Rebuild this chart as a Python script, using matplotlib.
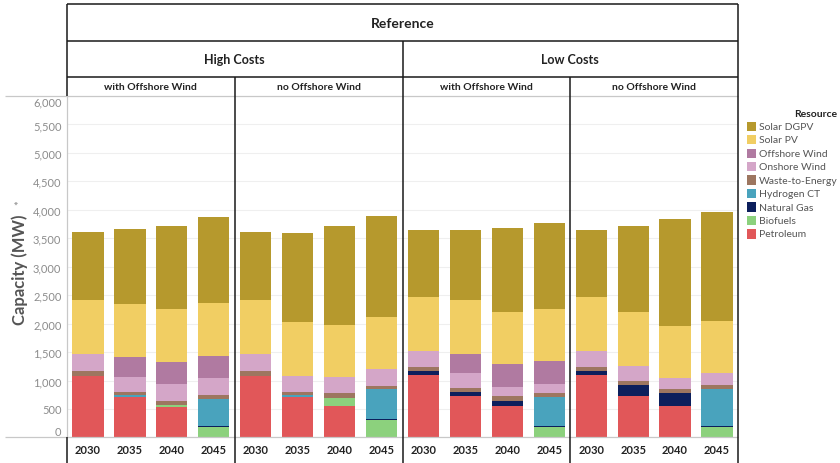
import matplotlib
matplotlib.use('Agg')
import matplotlib.pyplot as plt
from matplotlib.lines import Line2D
from matplotlib.patches import Rectangle

plt.rcParams['font.family'] = ['Lato', 'DejaVu Sans']

# ---------------- data ----------------
years = ['2030', '2035', '2040', '2045']
cost_groups = ['High Costs', 'Low Costs']
wind_cases = ['with Offshore Wind', 'no Offshore Wind']
title = 'Reference'

# order of panels: High/with, High/no, Low/with, Low/no ; 4 years each
petroleum     = [1084, 715, 539, 0,   1084, 715, 552, 0,   1091, 722, 552, 0,   1091, 722, 557, 0]
biofuels      = [0, 0, 35, 180,       0, 0, 140, 306,      0, 0, 0, 175,        0, 0, 0, 175]
natural_gas   = [0, 0, 0, 15,         0, 0, 0, 17,         75, 81, 93, 20,      75, 204, 218, 20]
hydrogen_ct   = [0, 25, 0, 480,       0, 25, 0, 522,       0, 0, 0, 515,        0, 0, 0, 660]
waste         = [82, 58, 71, 70,      82, 58, 83, 63,      71, 70, 77, 65,      71, 70, 70, 71]
onshore_wind  = [294, 258, 288, 293,  294, 281, 286, 288,  275, 258, 163, 158,  275, 258, 198, 205]
offshore_wind = [0, 362, 391, 392,    0, 0, 0, 0,          0, 329, 399, 404,    0, 0, 0, 0]
solar_pv      = [948, 935, 926, 926,  948, 948, 908, 919,  949, 948, 919, 913,  949, 949, 914, 908]
solar_dgpv    = [1205, 1308, 1463, 1516, 1205, 1558, 1744, 1779, 1177, 1240, 1480, 1521, 1177, 1510, 1874, 1915]

resources = ['Petroleum', 'Biofuels', 'Natural Gas', 'Hydrogen CT', 'Waste-to-Energy',
             'Onshore Wind', 'Offshore Wind', 'Solar PV', 'Solar DGPV']
series = [petroleum, biofuels, natural_gas, hydrogen_ct, waste,
          onshore_wind, offshore_wind, solar_pv, solar_dgpv]
colors = ['#E15759', '#8CD17D', '#0C1F5C', '#49A3BD', '#9D7660',
          '#D4A6C8', '#B07AA1', '#F1CE63', '#B6992D']

y_ticks = list(range(0, 6001, 500))

# ---------------- layout ----------------
W, H = 840, 464
fig = plt.figure(figsize=(W / 100, H / 100), dpi=100)

def fx(px):
    return px / W

def fy(py):
    return 1 - py / H

plot_top, plot_bot = 97.0, 438.4
x_left, x_right = 67.0, 738.0
pw = (x_right - x_left) / 4

BLACK = '#1a1a1a'
GRAY = '#c8c8c8'

def line(x0, y0, x1, y1, color=BLACK, lw=1.1):
    fig.add_artist(Line2D([fx(x0), fx(x1)], [fy(y0), fy(y1)],
                          transform=fig.transFigure, color=color, lw=lw,
                          solid_capstyle='butt'))

for p in range(4):
    ax = fig.add_axes([fx(x_left + p * pw), fy(plot_bot), fx(pw), (plot_bot - plot_top) / H])
    bottoms = [0] * 4
    for vals, col in zip(series, colors):
        v = vals[p * 4:(p + 1) * 4]
        ax.bar(range(4), v, width=0.745, bottom=bottoms, color=col, linewidth=0, zorder=2)
        bottoms = [b + x for b, x in zip(bottoms, v)]
    ax.set_xlim(-0.5, 3.5)
    ax.set_ylim(0, 6000)
    ax.set_yticks(y_ticks, labels=[f'{t:,}' for t in y_ticks])
    ax.yaxis.grid(True, color='#efefef', lw=0.8, zorder=0)
    ax.set_axisbelow(True)
    ax.set_xticks(range(4), labels=years)
    ax.tick_params(axis='x', length=0, pad=5, labelsize=8)
    for t in ax.get_xticklabels():
        t.set_fontweight('bold')
        t.set_color('#222222')
    if p == 0:
        ax.tick_params(axis='y', length=0, pad=4, labelsize=8, labelcolor='#8c8c8c')
        labs = ax.get_yticklabels()
        labs[0].set_va('bottom')
        labs[-1].set_va('top')
    else:
        ax.tick_params(axis='y', length=0, labelleft=False)
    for s in ax.spines.values():
        s.set_visible(False)

# ---------------- frame lines ----------------
line(5, plot_top, x_right, plot_top, GRAY, 0.9)
line(5, plot_bot, x_right, plot_bot, GRAY, 0.9)
line(x_left, plot_top, x_left, plot_bot, GRAY, 0.9)
line(x_left, 5, x_right, 5)
line(x_left, 42, x_right, 42)
line(x_left, 78, x_right, 78)
line(x_left, 5, x_left, plot_top)
line(x_left, plot_bot, x_left, H)
line(x_right, 5, x_right, H)
line(x_left + 2 * pw, 42, x_left + 2 * pw, H)
line(x_left + pw, 78, x_left + pw, H)
line(x_left + 3 * pw, 78, x_left + 3 * pw, H)

# ---------------- headers ----------------
fig.text(fx((x_left + x_right) / 2), fy(24), title, ha='center', va='center',
         fontsize=10, fontweight='bold', color='#222222')
for i, g in enumerate(cost_groups):
    cx = x_left + (2 * i + 1) * pw
    fig.text(fx(cx), fy(60.5), g, ha='center', va='center', fontsize=9,
             fontweight='bold', color='#222222')
    for j, w in enumerate(wind_cases):
        sx = x_left + (2 * i + j + 0.5) * pw
        fig.text(fx(sx), fy(87.5), w, ha='center', va='center', fontsize=7.5,
                 fontweight='bold', color='#222222')

# ---------------- y label ----------------
fig.text(fx(20), fy(270), 'Capacity (MW)', rotation=90, ha='center', va='center',
         fontsize=12, fontweight='bold', color='#555555')
fig.text(fx(20), fy(203), '*', rotation=90, ha='center', va='center',
         fontsize=8, color='#888888')

# ---------------- legend ----------------
fig.text(fx(837), fy(114.7), 'Resource', ha='right', va='center', fontsize=7.5,
         fontweight='bold', color='#222222')
for k, (name, col) in enumerate(zip(resources[::-1], colors[::-1])):
    yc = 127.3 + k * 13.46
    fig.add_artist(Rectangle((fx(746.7), fy(yc + 4.6)), fx(9.3), 9.3 / H,
                             transform=fig.transFigure, facecolor=col, edgecolor='none'))
    fig.text(fx(759), fy(yc), name, ha='left', va='center', fontsize=7.5, color='#555555')

fig.savefig('out.png', dpi=100)
